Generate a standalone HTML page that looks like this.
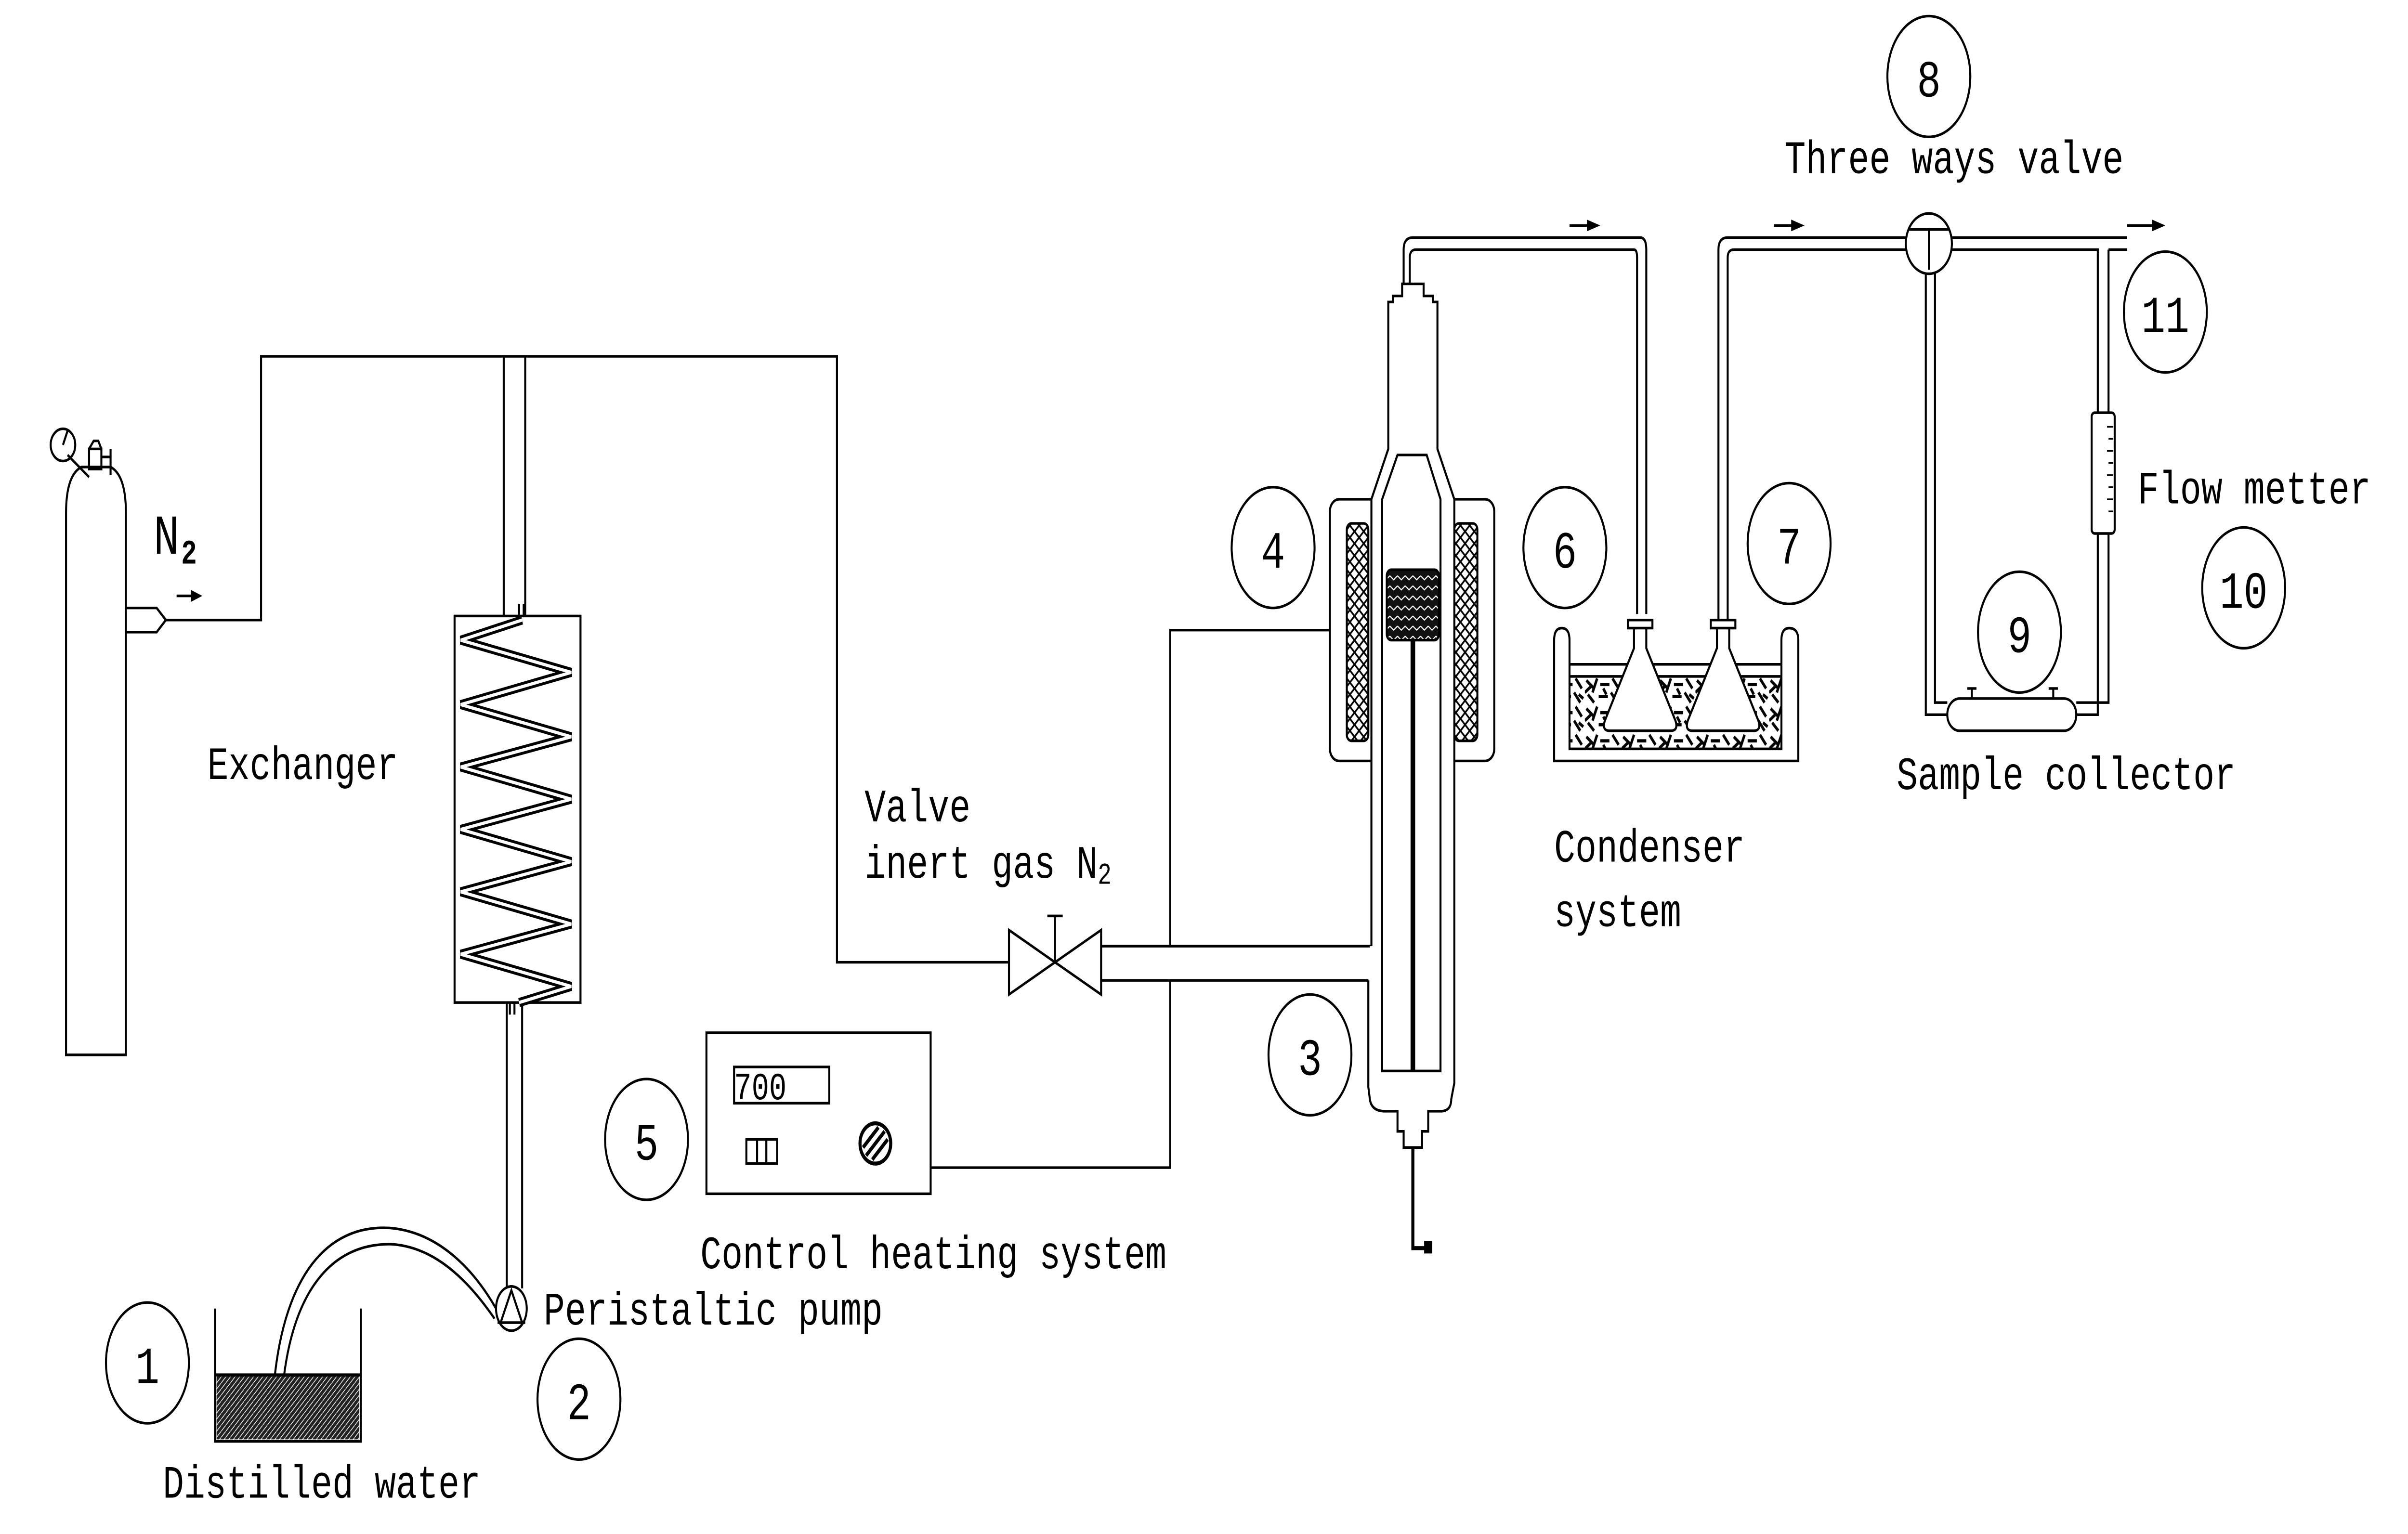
<!DOCTYPE html>
<html><head><meta charset="utf-8"><style>
html,body{margin:0;padding:0;background:#fff;width:100%;height:100%;overflow:hidden}
svg{display:block;width:100vw;height:100vh}
text{font-family:"Liberation Mono",monospace;fill:#000}
</style></head><body>
<svg viewBox="0 0 1568 762" preserveAspectRatio="none" xmlns="http://www.w3.org/2000/svg">
<defs>
<pattern id="xh" width="6" height="6" patternUnits="userSpaceOnUse">
<rect width="6" height="6" fill="#fff"/>
<path d="M0 0L6 6M6 0L0 6" stroke="#000" stroke-width="1"/>
</pattern>
<pattern id="cat" width="5" height="5" patternUnits="userSpaceOnUse">
<rect width="5" height="5" fill="#111"/>
<path d="M0 1L2.5 3L5 1" stroke="#fff" stroke-width="0.6" fill="none"/>
</pattern>
<pattern id="wat" width="3" height="3" patternUnits="userSpaceOnUse">
<rect width="3" height="3" fill="#222"/>
<path d="M0 3L3 0" stroke="#fff" stroke-width="0.4"/>
</pattern>
<pattern id="ice" width="24" height="14" patternUnits="userSpaceOnUse">
<rect width="24" height="14" fill="#fff"/>
<g stroke="#000" stroke-width="1.6" fill="none">
<path d="M1 2L6 6M8 1L5 8M10 4H16M18 1L22 6M2 9L6 13M9 10H15M17 8L21 13M12 6L14 9M20 9L23 11M4 5L0 8"/>
</g>
</pattern>
</defs>
<g fill="none" stroke="#000" stroke-width="1.3">
<!-- cylinder -->
<path d="M43 524V255Q43 236 53 232H72Q82 236 82 255V524Z"/>
<rect x="58" y="223" width="8" height="10"/>
<path d="M58 223L61 219H64L66 223"/>
<path d="M66 227H72M72 223V236"/>
<circle cx="41" cy="221" r="8"/>
<path d="M41 221L44 214M44 226L58 237"/>
<path d="M82 302H102L108 308L102 314H82"/>
<path d="M108 308H170V177H545V478H657"/>
<path d="M115 296H130" /><path d="M130 296L125 294V298Z" fill="#000"/>
<!-- exchanger -->
<path d="M328 177V306M342 177V306M330 498V640M340 498V640"/>
<path d="M338 300V306M341 300V306M332 498V504M335 498V504"/>
<rect x="296" y="306" width="82" height="192"/>
<polyline stroke-width="4.5" points="340,308 300,318 372,334 300,350 372,366 300,381 372,397 300,412 372,428 300,443 372,459 300,474 372,490 338,498"/>
<polyline stroke="#fff" stroke-width="1.6" points="340,308 300,318 372,334 300,350 372,366 300,381 372,397 300,412 372,428 300,443 372,459 300,474 372,490 338,498"/>
<!-- pump -->
<ellipse cx="333" cy="650" rx="10" ry="11"/>
<path d="M326 657L333 641L340 657Z M324 657H342"/>
<path d="M179 683C186 635 212 608 254 610C285 612 308 630 323 650"/>
<path d="M185 683C192 642 215 618 254 618C282 619 304 635 322 655"/>
<!-- beaker -->
<path d="M140 650V716H235V650"/>
<rect x="141" y="683" width="93" height="32" fill="url(#wat)" stroke="none"/>
<path d="M140 683H235" stroke-width="1.6"/>
<!-- valve -->
<path d="M657 462V494L717 462V494Z"/>
<path d="M687 478V455M682 455H692"/>
<path d="M717 470H893M717 487H893"/>
<path d="M866 313H762V470M762 487V580H606"/>
<!-- control box -->
<rect x="460" y="513" width="146" height="80"/>
<rect x="478" y="530" width="62" height="18"/>
<rect x="486" y="566" width="20" height="12"/>
<path d="M493 566V578M499 566V578"/>
<circle cx="570" cy="568" r="10" stroke-width="2"/>
<path d="M564 574L576 562M562 570L572 560M568 576L578 566" stroke-width="2"/>
<!-- heater -->
<rect x="866" y="248" width="107" height="130" rx="6"/>
<rect x="877" y="260" width="14" height="108" rx="3" fill="url(#xh)"/>
<rect x="947" y="260" width="15" height="108" rx="3" fill="url(#xh)"/>
<!-- reactor -->
<path d="M893 470V248L904 223V150H907V147H913V141H927V147H933V150H936V223L947 248V538L945 546Q945 552 938 552H930V562H926V570H914V562H910V552H902Q893 552 892 546L891 540V487" fill="#fff"/>
<path d="M893 470V487" stroke="#fff" stroke-width="2"/>
<path d="M900 532V248L910 226H929L938 248V532Z"/>
<rect x="903" y="283" width="34" height="35" rx="3" fill="url(#cat)"/>
<path d="M920 318V532" stroke-width="3"/>
<path d="M920 570V620H930" stroke-width="2"/>
<rect x="928" y="617" width="4" height="5" fill="#000"/>
<!-- pipe reactor -> flask6 -->
<path d="M914 141V124Q914 118 920 118H1068Q1072 118 1072 124V305"/>
<path d="M918 141V128Q918 124 922 124H1064Q1066 124 1066 128V305"/>
<path d="M1022 112H1034"/><path d="M1040 112L1034 110V114Z" fill="#000"/>
<!-- condenser -->
<rect x="1022" y="336" width="138" height="36" fill="url(#ice)" stroke="none"/>
<path d="M1012 318Q1012 312 1017 312Q1022 312 1022 318V372H1160V318Q1160 312 1165 312Q1171 312 1171 318V378H1012Z"/>
<path d="M1022 330H1160M1022 336H1160"/>
<path d="M1064 312V322L1045 358Q1043 363 1048 363H1088Q1093 363 1091 358L1072 322V312" fill="#fff"/>
<path d="M1060 308H1076V312H1060Z"/>
<path d="M1118 312V322L1099 358Q1097 363 1102 363H1142Q1147 363 1145 358L1126 322V312" fill="#fff"/>
<path d="M1114 308H1130V312H1114Z"/>
<!-- flask7 -> valve -->
<path d="M1119 308V124Q1119 118 1125 118H1241"/>
<path d="M1125 308V128Q1125 124 1129 124H1241"/>
<path d="M1155 112H1167"/><path d="M1173 112L1167 110V114Z" fill="#000"/>
<circle cx="1256" cy="121" r="15"/>
<path d="M1243 114H1269M1256 114V134"/>
<path d="M1271 118H1385M1271 124H1366V205M1373 124H1385M1373 124V205"/>
<path d="M1385 112H1402"/><path d="M1408 112L1402 110V114Z" fill="#000"/>
<path d="M1254 136V355H1268M1260 136V349H1268"/>
<rect x="1362" y="205" width="15" height="60" rx="2"/>
<path d="M1366 265V355H1352M1373 265V349H1352"/>
<rect x="1268" y="347" width="84" height="16" rx="8"/>
<path d="M1284 347V342M1281 342H1287M1337 347V342M1334 342H1340"/>
<g stroke-width="0.8"><path d="M1372 212H1376M1373 218H1376M1372 224H1376M1373 230H1376M1372 236H1376M1373 242H1376M1372 248H1376M1373 254H1376"/></g>
<!-- circled numbers -->
<ellipse cx="96" cy="677" rx="27" ry="30"/>
<ellipse cx="377" cy="695" rx="27" ry="30"/>
<ellipse cx="853" cy="524" rx="27" ry="30"/>
<ellipse cx="829" cy="272" rx="27" ry="30"/>
<ellipse cx="421" cy="566" rx="27" ry="30"/>
<ellipse cx="1019" cy="272" rx="27" ry="30"/>
<ellipse cx="1165" cy="270" rx="27" ry="30"/>
<ellipse cx="1256" cy="38" rx="27" ry="30"/>
<ellipse cx="1315" cy="314" rx="27" ry="30"/>
<ellipse cx="1461" cy="292" rx="27" ry="30"/>
<ellipse cx="1410" cy="155" rx="27" ry="30"/>
</g>
<g font-size="26" text-anchor="middle">
<text x="96" y="687">1</text><text x="377" y="705">2</text><text x="853" y="534">3</text>
<text x="829" y="282">4</text><text x="421" y="576">5</text><text x="1019" y="282">6</text>
<text x="1165" y="280">7</text><text x="1256" y="48">8</text><text x="1315" y="324">9</text>
<text x="1461" y="302">10</text><text x="1410" y="165">11</text>
</g>
<g font-size="23">
<text x="100" y="275" font-size="28">N</text><text x="118" y="280" font-size="17" font-weight="bold">2</text>
<text x="135" y="387">Exchanger</text>
<text x="354" y="658">Peristaltic pump</text>
<text x="106" y="744">Distilled water</text>
<text x="456" y="630">Control heating system</text>
<text x="563" y="408">Valve</text>
<text x="563" y="436">inert gas N<tspan font-size="15" dy="3">2</tspan></text>
<text x="1012" y="428">Condenser</text>
<text x="1012" y="460">system</text>
<text x="1162" y="86">Three ways valve</text>
<text x="1392" y="250">Flow metter</text>
<text x="1235" y="392">Sample collector</text>
<text x="478" y="546" font-size="19">700</text>
</g>
</svg>
</body></html>
